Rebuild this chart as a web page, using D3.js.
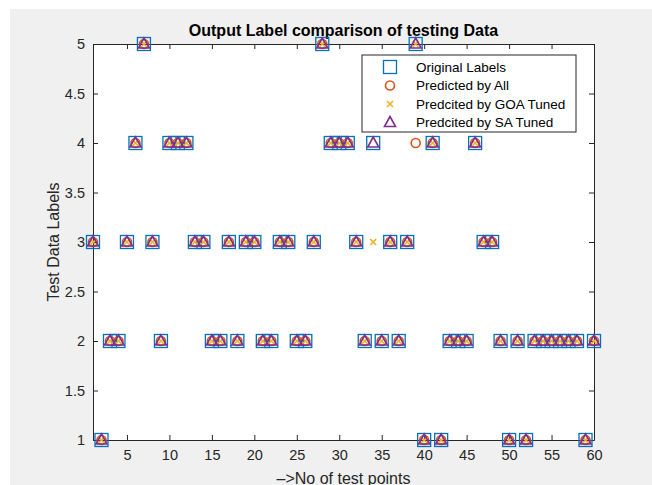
<!DOCTYPE html>
<html>
<head>
<meta charset="utf-8">
<script src="https://cdn.jsdelivr.net/npm/d3@7"></script>
<style>
  body { margin: 0; background: #ffffff; }
  svg { display: block; font-family: "Liberation Sans", Arial, sans-serif; }
</style>
</head>
<body>
<svg width="652" height="485"></svg>
<script>
// test point labels (x = 1..60)
var testPoints = d3.range(1, 61);
var originalLabels = [3,1,2,2,3,4,5,3,2,4, 4,4,3,3,2,2,3,2,3,3,
                      2,2,3,3,2,2,3,5,4,4, 4,3,2,4,2,3,2,3,5,1,
                      4,1,2,2,2,4,3,3,2,1, 2,1,2,2,2,2,2,2,1,2];
var predictedAll = [3,1,2,2,3,4,5,3,2,4, 4,4,3,3,2,2,3,2,3,3,
                    2,2,3,3,2,2,3,5,4,4, 4,3,2,null,2,3,2,3,4,1,
                    4,1,2,2,2,4,3,3,2,1, 2,1,2,2,2,2,2,2,1,2];
var predictedGOA = [3,1,2,2,3,4,5,3,2,4, 4,4,3,3,2,2,3,2,3,3,
                    2,2,3,3,2,2,3,5,4,4, 4,3,2,3,2,3,2,3,5,1,
                    4,1,2,2,2,4,3,3,2,1, 2,1,2,2,2,2,2,2,1,2];
var predictedSA = [3,1,2,2,3,4,5,3,2,4, 4,4,3,3,2,2,3,2,3,3,
                   2,2,3,3,2,2,3,5,4,4, 4,3,2,4,2,3,2,3,5,1,
                   4,1,2,2,2,4,3,3,2,1, 2,1,2,2,2,2,2,2,1,2];

var xTicks = [5,10,15,20,25,30,35,40,45,50,55,60];
var yTicks = [1,1.5,2,2.5,3,3.5,4,4.5,5];
var legendNames = ["Original Labels", "Predicted by All", "Predcited by GOA Tuned", "Predcited by SA Tuned"];

var svg = d3.select("svg");

// matlab figure background (screenshot has a white strip top/left)
svg.append("rect")
    .attr("x", 10).attr("y", 9)
    .attr("width", 642).attr("height", 476)
    .attr("fill", "#f0f0f0");

var plotLeft = 93, plotRight = 594, plotTop = 44, plotBottom = 440;
var xScale = d3.scaleLinear().domain([1, 60]).range([plotLeft, plotRight]);
var yScale = d3.scaleLinear().domain([1, 5]).range([plotBottom, plotTop]);

svg.append("rect")
    .attr("x", plotLeft).attr("y", plotTop)
    .attr("width", plotRight - plotLeft).attr("height", plotBottom - plotTop)
    .attr("fill", "#ffffff");

var axisColor = "#262626";

// axes, ticks inside on all four sides
var gx = svg.append("g")
    .attr("transform", "translate(0," + plotBottom + ")")
    .call(d3.axisBottom(xScale).tickValues(xTicks).tickSizeInner(-5).tickSizeOuter(0).tickPadding(10));
var gxTop = svg.append("g")
    .attr("transform", "translate(0," + plotTop + ")")
    .call(d3.axisTop(xScale).tickValues(xTicks).tickSizeInner(-5).tickSizeOuter(0).tickFormat(""));
var gy = svg.append("g")
    .attr("transform", "translate(" + plotLeft + ",0)")
    .call(d3.axisLeft(yScale).tickValues(yTicks).tickSizeInner(-5).tickSizeOuter(0).tickPadding(8)
        .tickFormat(function(d) { return d; }));
var gyRight = svg.append("g")
    .attr("transform", "translate(" + plotRight + ",0)")
    .call(d3.axisRight(yScale).tickValues(yTicks).tickSizeInner(-5).tickSizeOuter(0).tickFormat(""));

[gx, gxTop, gy, gyRight].forEach(function(g) {
    g.selectAll("path").attr("stroke", axisColor).attr("stroke-width", 1);
    g.selectAll("line").attr("stroke", axisColor);
    g.selectAll("text").attr("fill", axisColor).style("font-size", "14.5px")
        .style("font-family", "'Liberation Sans', Arial, sans-serif");
});

// title and axis labels
svg.append("text")
    .attr("x", (plotLeft + plotRight) / 2).attr("y", 36)
    .attr("text-anchor", "middle")
    .style("font-size", "16px").style("font-weight", "bold")
    .attr("fill", "#000")
    .text("Output Label comparison of testing Data");

svg.append("text")
    .attr("x", (plotLeft + plotRight) / 2).attr("y", 484)
    .attr("text-anchor", "middle")
    .style("font-size", "16px")
    .attr("fill", axisColor)
    .text("\u2013>No of test points");

svg.append("text")
    .attr("transform", "translate(59," + (plotTop + plotBottom) / 2 + ") rotate(-90)")
    .attr("text-anchor", "middle")
    .style("font-size", "16px")
    .attr("fill", axisColor)
    .text("Test Data Labels");

// marker shapes
var colors = ["#0072BD", "#D95319", "#EDB120", "#7E2F8E"];

function drawMarker(g, kind, cx, cy) {
    if (kind == 0) {
        g.append("rect")
            .attr("x", cx - 6.5).attr("y", cy - 6.5)
            .attr("width", 13).attr("height", 13)
            .attr("fill", "none").attr("stroke", colors[0]).attr("stroke-width", 1.3);
    } else if (kind == 1) {
        g.append("circle")
            .attr("cx", cx).attr("cy", cy).attr("r", 4.5)
            .attr("fill", "none").attr("stroke", colors[1]).attr("stroke-width", 1.6);
    } else if (kind == 2) {
        g.append("path")
            .attr("d", "M" + (cx - 3) + "," + (cy - 3) + "L" + (cx + 3) + "," + (cy + 3) +
                       "M" + (cx - 3) + "," + (cy + 3) + "L" + (cx + 3) + "," + (cy - 3))
            .attr("stroke", colors[2]).attr("stroke-width", 1.6);
    } else {
        g.append("path")
            .attr("d", "M" + cx + "," + (cy - 6) + "L" + (cx + 5.5) + "," + (cy + 4) +
                       "L" + (cx - 5.5) + "," + (cy + 4) + "Z")
            .attr("fill", "none").attr("stroke", colors[3]).attr("stroke-width", 1.6);
    }
}

var series = [originalLabels, predictedAll, predictedGOA, predictedSA];
var marks = svg.append("g");
series.forEach(function(values, k) {
    var g = marks.append("g");
    testPoints.forEach(function(p, i) {
        if (values[i] == null) return;
        drawMarker(g, k, xScale(p), yScale(values[i]));
    });
});

// legend
var legend = svg.append("g");
legend.append("rect")
    .attr("x", 362).attr("y", 55)
    .attr("width", 214).attr("height", 77)
    .attr("fill", "#ffffff").attr("stroke", axisColor).attr("stroke-width", 1);
legendNames.forEach(function(name, k) {
    var ly = 67 + k * 18.5;
    drawMarker(legend, k, 390, ly);
    legend.append("text")
        .attr("x", 416).attr("y", ly)
        .attr("dy", "0.35em")
        .style("font-size", "13.5px")
        .attr("fill", "#000")
        .text(name);
});
</script>
</body>
</html>
